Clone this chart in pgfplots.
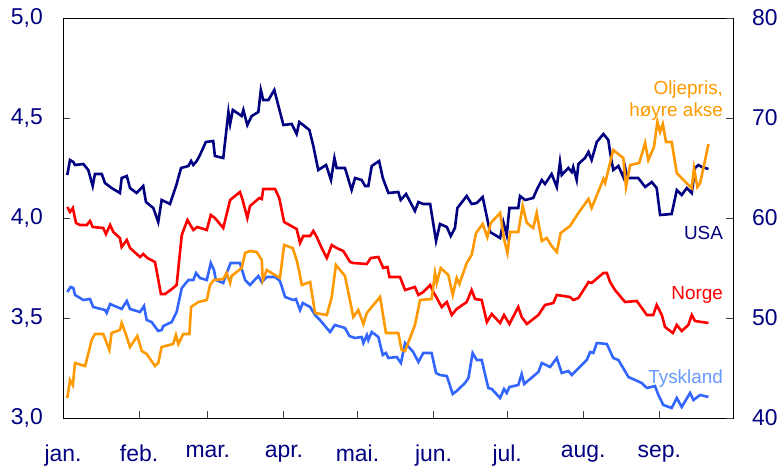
\documentclass[border=0pt]{standalone}
\usepackage{pgfplots}
\pgfplotsset{compat=1.18}
\usepackage{fontspec}
\setmainfont{Liberation Sans}
\definecolor{navytxt}{RGB}{0,0,128}
\definecolor{usa}{RGB}{0,0,128}
\definecolor{norge}{RGB}{255,0,0}
\definecolor{tysk}{RGB}{51,102,255}
\definecolor{tysklab}{RGB}{102,153,255}
\definecolor{olje}{RGB}{255,153,0}
\definecolor{axgray}{RGB}{128,128,128}
\begin{document}
\begin{tikzpicture}
\pgfplotsset{
  common/.style={
    scale only axis, width=670bp, height=400bp,
    xmin=0, xmax=273,
    tick align=inside,
    major tick length=7bp,
    tick style={line width=0.9bp, color=black!75},
    ticklabel style={font=\fontsize{23}{27}\selectfont, text=navytxt, inner sep=0pt},
    /pgf/number format/assume math mode=true,
  }
}
\begin{axis}[common,
  ymin=3, ymax=5,
  xtick={0,31,59,90,120,151,181,212,243},
  xticklabels={jan.,feb.,mar.,apr.,mai.,jun.,jul.,aug.,sep.},
  xtick pos=bottom,
  ytick={3,3.5,4,4.5,5},
  yticklabels={{3,0},{3,5},{4,0},{4,5},{5,0}},
  ytick pos=left,
  x axis line style={axgray, line width=1.6bp},
  y axis line style={black, line width=0.8bp},
  xticklabel style={yshift=-27bp},
  yticklabel style={xshift=-20bp},
]
% USA
\addplot[usa, line width=2.6bp] coordinates {
(1.75,4.215)(2.85,4.29)(4.2,4.28)(4.9,4.265)(8.3,4.27)(10.3,4.24)(12.1,4.16)(13.0,4.22)(15.8,4.22)(17.1,4.175)(19.8,4.15)(23.2,4.125)(23.9,4.2)(26.0,4.21)(27.3,4.15)(30.0,4.125)(32.7,4.16)(33.8,4.08)(36.8,4.05)(38.8,3.98)(40.2,4.09)(43.6,4.07)(46.3,4.17)(48.1,4.25)(51.1,4.26)(52.2,4.285)(53.1,4.265)(54.5,4.285)(55.8,4.315)(58.2,4.38)(61.2,4.385)(61.9,4.31)(65.3,4.3)(67.4,4.53)(68.1,4.47)(69.2,4.54)(72.8,4.51)(73.5,4.54)(75.1,4.465)(76.9,4.51)(79.6,4.53)(80.6,4.64)(81.6,4.59)(83.7,4.59)(86.1,4.64)(89.8,4.465)(93.2,4.47)(95.2,4.42)(96.3,4.48)(100.4,4.44)(102.0,4.36)(104.0,4.24)(107.2,4.265)(109.2,4.19)(110.6,4.30)(111.5,4.25)(114.9,4.25)(117.6,4.14)(119.0,4.2)(121.7,4.19)(123.1,4.16)(124.4,4.16)(125.8,4.26)(128.8,4.285)(130.3,4.20)(132.6,4.125)(136.6,4.13)(137.6,4.09)(139.8,4.12)(143.4,4.035)(144.8,4.08)(146.8,4.07)(149.6,4.07)(152.0,3.885)(153.6,3.97)(156.4,3.955)(158.0,3.91)(159.7,3.95)(160.7,4.05)(164.5,4.11)(166.5,4.07)(168.6,4.075)(171.0,4.105)(174.0,3.93)(178.1,3.9)(179.4,3.98)(180.8,3.915)(181.9,4.05)(185.5,4.05)(186.2,4.11)(188.3,4.09)(191.6,4.10)(193.0,4.14)(195.1,4.19)(196.4,4.17)(199.1,4.22)(201.2,4.155)(202.5,4.28)(203.2,4.215)(205.9,4.25)(207.3,4.23)(207.9,4.255)(209.3,4.19)(210.0,4.27)(212.7,4.30)(214.1,4.33)(215.4,4.29)(217.5,4.38)(220.2,4.42)(222.2,4.39)(222.9,4.33)(224.2,4.24)(226.3,4.26)(228.3,4.205)(229.0,4.255)(230.0,4.20)(234.4,4.20)(237.2,4.155)(239.9,4.18)(241.9,4.15)(243.3,4.015)(248.0,4.02)(250.1,4.14)(252.1,4.115)(254.2,4.15)(256.2,4.125)(257.5,4.25)(258.9,4.265)(260.3,4.255)(263.0,4.245)
};
% Norge
\addplot[norge, line width=2.6bp] coordinates {
(1.75,4.055)(2.85,4.03)(4.0,4.05)(5.3,3.975)(6.9,3.965)(9.7,3.965)(11.0,3.985)(12.1,3.955)(16.4,3.95)(17.5,3.92)(19.2,3.965)(20.5,3.93)(23.2,3.90)(23.9,3.855)(26.0,3.89)(27.3,3.85)(31.4,3.805)(32.7,3.82)(34.4,3.80)(37.5,3.78)(39.9,3.62)(41.6,3.62)(44.9,3.65)(46.3,3.665)(48.4,3.915)(50.7,3.99)(53.1,3.94)(54.7,3.955)(58.6,3.94)(60.2,4.015)(61.9,4.0)(65.3,3.95)(68.1,4.09)(72.1,4.13)(73.2,4.09)(75.1,4.0)(76.2,4.06)(80.0,4.10)(81.0,4.095)(81.6,4.145)(86.4,4.145)(88.1,4.1)(90.1,3.98)(95.2,3.945)(96.6,3.875)(97.9,3.91)(100.7,3.91)(102.0,3.935)(103.4,3.905)(105.4,3.85)(107.5,3.80)(109.5,3.865)(111.5,3.85)(114.2,3.835)(117.0,3.78)(118.3,3.775)(123.8,3.77)(125.4,3.80)(128.5,3.805)(130.5,3.75)(132.2,3.755)(133.0,3.705)(137.3,3.705)(139.4,3.64)(143.4,3.655)(144.8,3.615)(146.8,3.63)(149.6,3.665)(150.9,3.63)(152.3,3.60)(154.3,3.555)(156.4,3.58)(158.4,3.515)(160.4,3.545)(164.5,3.58)(166.5,3.64)(167.9,3.595)(170.6,3.59)(172.7,3.48)(174.7,3.52)(178.1,3.475)(179.7,3.515)(181.9,3.47)(185.5,3.555)(186.9,3.505)(189.0,3.47)(193.7,3.515)(196.4,3.565)(199.8,3.575)(201.2,3.615)(206.6,3.605)(207.9,3.59)(210.0,3.60)(213.4,3.665)(214.1,3.68)(215.4,3.675)(220.2,3.725)(221.6,3.725)(222.9,3.68)(224.9,3.64)(229.0,3.58)(233.8,3.585)(237.9,3.515)(240.5,3.515)(241.9,3.565)(244.0,3.515)(245.3,3.455)(248.5,3.425)(250.1,3.465)(252.1,3.435)(254.8,3.465)(256.2,3.515)(257.5,3.485)(263.0,3.475)
};
% Tyskland
\addplot[tysk, line width=2.6bp] coordinates {
(1.75,3.63)(3.1,3.655)(4.2,3.65)(4.9,3.615)(8.3,3.59)(11.0,3.595)(12.3,3.555)(17.1,3.54)(17.8,3.525)(19.2,3.57)(23.9,3.545)(26.0,3.585)(27.3,3.545)(31.4,3.53)(33.0,3.56)(34.1,3.49)(36.1,3.48)(38.8,3.435)(40.2,3.44)(40.9,3.46)(44.3,3.48)(46.3,3.53)(48.4,3.65)(51.1,3.69)(53.1,3.69)(54.2,3.725)(55.8,3.70)(58.6,3.69)(60.2,3.775)(61.5,3.74)(62.3,3.69)(65.3,3.675)(66.7,3.725)(68.3,3.775)(72.1,3.775)(74.2,3.69)(76.2,3.665)(79.6,3.71)(81.0,3.68)(83.0,3.705)(86.4,3.705)(88.4,3.685)(90.5,3.605)(93.8,3.59)(94.9,3.595)(96.6,3.54)(97.7,3.575)(100.7,3.555)(102.7,3.515)(104.7,3.49)(108.8,3.43)(110.8,3.465)(114.9,3.45)(116.7,3.41)(119.0,3.40)(121.7,3.405)(122.4,3.375)(123.8,3.415)(124.4,3.39)(125.8,3.43)(128.5,3.405)(130.3,3.315)(131.6,3.325)(132.6,3.30)(136.0,3.305)(137.7,3.275)(139.4,3.375)(142.7,3.33)(144.8,3.28)(146.8,3.325)(150.2,3.325)(152.0,3.225)(153.6,3.215)(156.4,3.21)(158.8,3.12)(160.4,3.135)(163.8,3.175)(165.2,3.20)(166.9,3.325)(168.6,3.29)(170.6,3.29)(173.3,3.15)(174.7,3.145)(178.1,3.10)(179.7,3.145)(180.8,3.125)(181.9,3.155)(185.5,3.165)(186.9,3.22)(187.9,3.17)(193.7,3.23)(195.1,3.275)(198.5,3.255)(201.2,3.30)(203.2,3.225)(205.9,3.235)(207.3,3.215)(213.4,3.29)(214.8,3.33)(216.1,3.325)(217.5,3.375)(221.6,3.37)(224.2,3.30)(226.3,3.29)(230.4,3.205)(235.8,3.175)(237.9,3.15)(241.2,3.16)(242.6,3.115)(244.6,3.065)(248.0,3.05)(250.1,3.10)(252.1,3.055)(255.5,3.125)(256.9,3.09)(259.6,3.115)(263.0,3.105)
};
\node[anchor=east, inner sep=0pt, text=olje, align=right, font=\fontsize{19}{22}\selectfont] at (axis cs:269,4.5875) {Oljepris,\\høyre akse};
\node[anchor=east, inner sep=0pt, text=usa, font=\fontsize{19}{22}\selectfont] at (axis cs:269,3.9235) {USA};
\node[anchor=east, inner sep=0pt, text=norge, font=\fontsize{19}{22}\selectfont] at (axis cs:269,3.615) {Norge};
\node[anchor=east, inner sep=0pt, text=tysklab, font=\fontsize{19}{22}\selectfont] at (axis cs:269,3.198) {Tyskland};
\end{axis}
\begin{axis}[common,
  ymin=40, ymax=80,
  axis x line=none,
  axis y line*=right,
  ytick={40,50,60,70,80},
  ytick pos=right,
  y axis line style={black, line width=0.8bp},
  yticklabel style={xshift=19bp},
]
\addplot[olje, line width=2.6bp] coordinates {
(1.75,42.0)(2.85,43.8)(4.0,43.3)(4.9,45.5)(9.0,45.2)(11.7,47.8)(13.0,48.4)(16.4,48.4)(18.9,46.8)(19.8,48.5)(23.2,48.8)(23.9,49.5)(25.3,48.6)(27.3,47.1)(30.3,48.2)(32.1,46.7)(34.1,46.4)(37.5,45.2)(38.8,45.5)(40.2,47.1)(44.9,47.4)(46.0,48.3)(47.0,47.4)(49.0,48.4)(51.5,48.4)(52.2,51.1)(55.1,51.6)(58.6,51.8)(59.9,53.3)(61.5,53.8)(65.3,53.9)(66.7,54.5)(68.1,53.5)(68.7,54.2)(72.8,55.0)(74.2,56.5)(76.2,56.7)(78.9,56.6)(81.0,55.8)(81.4,53.8)(83.0,54.8)(88.4,54.0)(90.1,57.3)(93.6,57.0)(95.2,55.8)(96.3,54.6)(97.3,53.3)(100.7,53.6)(102.7,50.5)(107.5,50.3)(109.5,52.1)(111.2,55.3)(114.9,54.2)(118.3,50.1)(120.3,50.8)(122.4,49.4)(123.8,50.5)(125.1,50.9)(129.2,52.1)(131.6,48.5)(136.6,48.5)(138.0,46.8)(139.4,46.7)(143.4,49.3)(145.5,51.8)(150.2,51.9)(151.6,54.5)(152.3,53.5)(153.9,55.0)(157.0,54.3)(158.8,52.3)(160.4,54.0)(161.5,53.4)(164.5,55.5)(166.5,56.3)(168.3,58.5)(171.0,59.4)(172.9,58.1)(174.3,59.5)(178.1,60.5)(179.7,57.9)(181.1,56.5)(182.2,58.6)(185.5,58.6)(187.3,61.2)(189.0,59.5)(191.6,59.0)(193.0,60.5)(195.1,57.7)(197.1,58.0)(199.1,57.2)(201.2,56.6)(202.8,58.5)(206.6,59.2)(210.0,60.5)(214.1,61.9)(215.4,61.0)(220.2,63.9)(220.9,63.5)(224.2,66.8)(228.3,66.0)(229.4,63.1)(231.1,65.3)(234.8,65.5)(237.2,67.5)(238.5,65.8)(240.8,67.1)(242.2,69.6)(243.3,68.6)(244.4,69.4)(245.7,67.6)(248.0,67.6)(250.1,64.5)(252.8,63.8)(256.2,63.0)(257.1,65.0)(258.5,63.1)(259.6,63.5)(261.2,65.3)(263.0,67.4)
};
\end{axis}
\path ([shift={(-63bp,-53bp)}]current axis.south west) rectangle ([shift={(51bp,18bp)}]current axis.north east);
\end{tikzpicture}
\end{document}
